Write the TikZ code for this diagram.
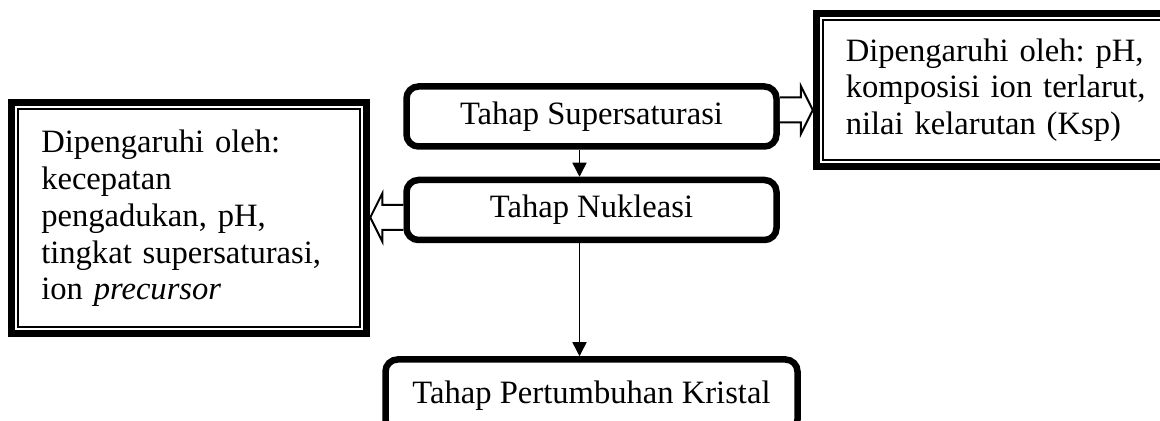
\documentclass[tikz,border=0pt]{standalone}
\usepackage{fontspec}
\setmainfont{Liberation Serif}
\usetikzlibrary{arrows.meta,positioning,calc}

\begin{document}
\begin{tikzpicture}[node distance=13.5pt, font=\fontsize{16.3}{18.4}\selectfont\frenchspacing,
box/.style={draw, line width=3.25pt, rounded corners=6pt, align=center, minimum width=185pt, minimum height=30pt, inner sep=0pt},
infobox/.style={draw, line width=1pt, fill=white, align=left, inner xsep=11.5pt, outer sep=5pt,
  preaction={draw, line width=10pt}, preaction={draw, white, line width=3pt}},
arrow/.style={-{Triangle[length=7pt, width=7pt]}, line width=0.75pt},
fatarrow/.style={draw, fill=white, line width=1pt, line join=miter}]
\path[use as bounding box, clip] (0,0) rectangle (580pt,-210.5pt);
\node[box] (supersat) at (295.75pt,-58.25pt) {Tahap Supersaturasi};
\node[box, below=of supersat] (nukleasi) {Tahap Nukleasi};
\node[box, below=56.5pt of nukleasi, minimum width=206pt, minimum height=36pt] (kristal) {Tahap Pertumbuhan Kristal};
\node[infobox, right=16.5pt of supersat, yshift=13.25pt, text width=160pt, minimum height=70pt] (faktorsup) {Dipengaruhi oleh: pH,\\komposisi ion terlarut,\\nilai kelarutan (Ksp)};
\node[infobox, left=16.5pt of nukleasi, yshift=-4.25pt, text width=148pt, minimum height=109pt] (faktornuk) {Dipengaruhi oleh:\\kecepatan\\pengadukan, pH,\\tingkat supersaturasi,\\ion \textit{precursor}};
\draw[arrow] ([xshift=-6pt]supersat.south) -- ([xshift=-6pt]nukleasi.north);
\draw[arrow] ([xshift=-6pt]nukleasi.south) -- ([xshift=-6pt]kristal.north);
\draw[fatarrow] let \p1=([yshift=3.25pt]supersat.east), \p2=(faktorsup.west) in
  (\x1,\y1+6.25pt) -- (\x2-6pt,\y1+6.25pt) -- (\x2-6pt,\y1+12pt) -- (\x2,\y1)
  -- (\x2-6pt,\y1-12pt) -- (\x2-6pt,\y1-6.25pt) -- (\x1,\y1-6.25pt);
\draw[fatarrow] let \p1=([yshift=-3.75pt]nukleasi.west), \p2=(faktornuk.east) in
  (\x1,\y1+6.25pt) -- (\x2+6pt,\y1+6.25pt) -- (\x2+6pt,\y1+12pt) -- (\x2,\y1)
  -- (\x2+6pt,\y1-12pt) -- (\x2+6pt,\y1-6.25pt) -- (\x1,\y1-6.25pt);
\end{tikzpicture}
\end{document}
